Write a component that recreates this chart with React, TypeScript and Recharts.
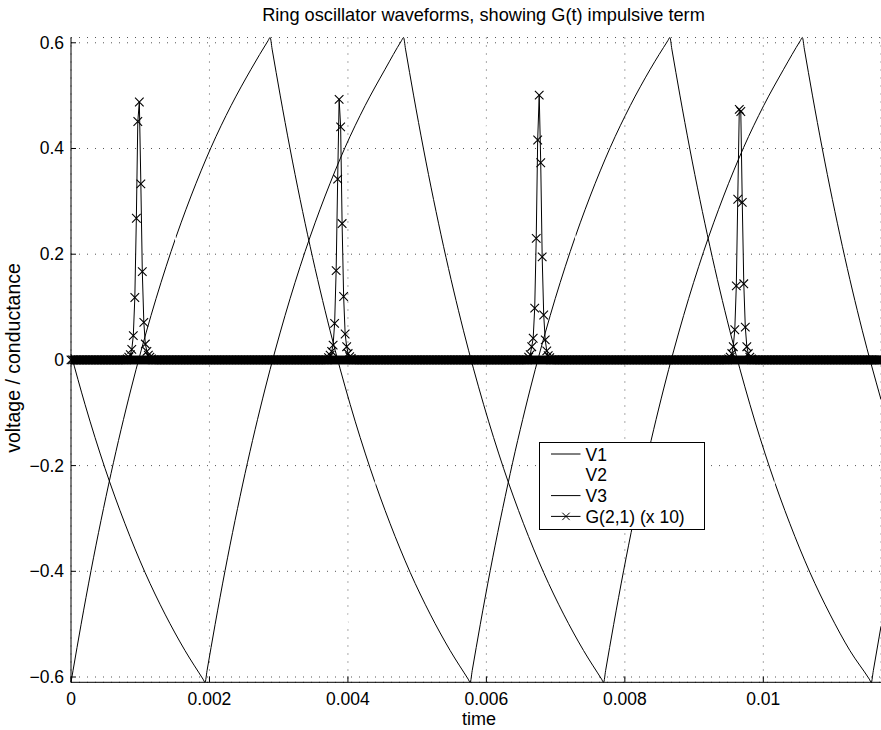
import { CartesianGrid, Line, LineChart, ReferenceLine, XAxis, YAxis } from "recharts"

const FONT = "'Liberation Sans', Arial, Helvetica, sans-serif"

// node voltages: [time (s), volts]
const v1Points = [
  [0, -0.61], [0.000029, -0.588], [0.000145, -0.501], [0.000289, -0.399], [0.000578, -0.215], [0.000867, -0.055],
  [0.001156, 0.084], [0.001445, 0.205], [0.001734, 0.31], [0.002023, 0.402], [0.002312, 0.481], [0.002601, 0.55],
  [0.002847, 0.604], [0.002876, 0.61],
  [0.002905, 0.588], [0.003021, 0.501], [0.003165, 0.399], [0.003454, 0.215], [0.003743, 0.055], [0.004032, -0.084],
  [0.004321, -0.205], [0.00461, -0.31], [0.004899, -0.402], [0.005188, -0.481], [0.005477, -0.55], [0.005737, -0.604],
  [0.005766, -0.61],
  [0.005795, -0.588], [0.005911, -0.501], [0.006055, -0.399], [0.006344, -0.215], [0.006633, -0.055], [0.006922, 0.084],
  [0.007211, 0.205], [0.0075, 0.31], [0.007789, 0.402], [0.008078, 0.481], [0.008367, 0.55], [0.008621, 0.604],
  [0.00865, 0.61],
  [0.008679, 0.588], [0.008795, 0.501], [0.008939, 0.399], [0.009228, 0.215], [0.009517, 0.055], [0.009806, -0.084],
  [0.010095, -0.205], [0.010384, -0.31], [0.010673, -0.402], [0.010962, -0.481], [0.011251, -0.55], [0.011531, -0.604],
  [0.01156, -0.61],
  [0.011589, -0.588], [0.0117, -0.504],
]

const v2Points = [
  [0, 0.376], [0.000087, 0.402], [0.000376, 0.481], [0.000665, 0.55], [0.000925, 0.604], [0.000954, 0.61],
  [0.000983, 0.588], [0.001099, 0.501], [0.001243, 0.399], [0.001532, 0.215], [0.001821, 0.055], [0.00211, -0.084],
  [0.002399, -0.205], [0.002688, -0.31], [0.002977, -0.402], [0.003266, -0.481], [0.003555, -0.55], [0.003815, -0.604],
  [0.003844, -0.61],
  [0.003873, -0.588], [0.003989, -0.501], [0.004133, -0.399], [0.004422, -0.215], [0.004711, -0.055], [0.005, 0.084],
  [0.005289, 0.205], [0.005578, 0.31], [0.005867, 0.402], [0.006156, 0.481], [0.006445, 0.55], [0.006705, 0.604],
  [0.006734, 0.61],
  [0.006763, 0.588], [0.006879, 0.501], [0.007023, 0.399], [0.007312, 0.215], [0.007601, 0.055], [0.00789, -0.084],
  [0.008179, -0.205], [0.008468, -0.31], [0.008757, -0.402], [0.009046, -0.481], [0.009335, -0.55], [0.009588, -0.604],
  [0.009617, -0.61],
  [0.009646, -0.588], [0.009762, -0.501], [0.009906, -0.399], [0.010195, -0.215], [0.010484, -0.055], [0.010773, 0.084],
  [0.011062, 0.205], [0.011351, 0.31], [0.01164, 0.402], [0.0117, 0.419],
]

const v3Points = [
  [0, 0.011], [0.000202, -0.084], [0.000491, -0.205], [0.00078, -0.31], [0.001069, -0.402], [0.001358, -0.481],
  [0.001647, -0.55], [0.001907, -0.604], [0.001936, -0.61],
  [0.001965, -0.588], [0.002081, -0.501], [0.002225, -0.399], [0.002514, -0.215], [0.002803, -0.055], [0.003092, 0.084],
  [0.003381, 0.205], [0.00367, 0.31], [0.003959, 0.402], [0.004248, 0.481], [0.004537, 0.55], [0.004774, 0.604],
  [0.004803, 0.61],
  [0.004832, 0.588], [0.004948, 0.501], [0.005092, 0.399], [0.005381, 0.215], [0.00567, 0.055], [0.005959, -0.084],
  [0.006248, -0.205], [0.006537, -0.31], [0.006826, -0.402], [0.007115, -0.481], [0.007404, -0.55], [0.007664, -0.604],
  [0.007693, -0.61],
  [0.007722, -0.588], [0.007838, -0.501], [0.007982, -0.399], [0.008271, -0.215], [0.00856, -0.055], [0.008849, 0.084],
  [0.009138, 0.205], [0.009427, 0.31], [0.009716, 0.402], [0.010005, 0.481], [0.010294, 0.55], [0.010535, 0.604],
  [0.010564, 0.61],
  [0.010593, 0.588], [0.010709, 0.501], [0.010853, 0.399], [0.011142, 0.215], [0.011431, 0.055], [0.0117, -0.075],
]

// G(2,1) (x 10) pulses at the V1 zero crossings: [time, value]
const gPulse1 = [
  [0.000813, 0.002], [0.000835, 0.005], [0.000857, 0.01], [0.000878, 0.02], [0.0009, 0.046], [0.000922, 0.118],
  [0.000944, 0.268], [0.000965, 0.451], [0.000987, 0.488], [0.001009, 0.333], [0.00103, 0.167], [0.001052, 0.071],
  [0.001074, 0.03], [0.001096, 0.016], [0.001117, 0.009], [0.001139, 0.005], [0.001161, 0.002],
]
const gPulse2 = [
  [0.003721, 0.004], [0.003743, 0.009], [0.003765, 0.016], [0.003786, 0.028], [0.003808, 0.069], [0.00383, 0.169],
  [0.003852, 0.342], [0.003873, 0.493], [0.003895, 0.441], [0.003916, 0.258], [0.003938, 0.12], [0.00396, 0.049],
  [0.003982, 0.025], [0.004003, 0.012], [0.004025, 0.006], [0.004047, 0.003],
]
const gPulse3 = [
  [0.006611, 0.005], [0.006633, 0.01], [0.006655, 0.025], [0.006676, 0.041], [0.006698, 0.098], [0.00672, 0.23],
  [0.006741, 0.416], [0.006763, 0.501], [0.006785, 0.373], [0.006806, 0.195], [0.006828, 0.085], [0.00685, 0.038],
  [0.006872, 0.017], [0.006893, 0.008], [0.006915, 0.004],
]
const gPulse4 = [
  [0.009501, 0.002], [0.009523, 0.005], [0.009545, 0.012], [0.009566, 0.025], [0.009588, 0.057], [0.00961, 0.14],
  [0.009631, 0.304], [0.009653, 0.474], [0.009675, 0.47], [0.009696, 0.298], [0.009718, 0.144], [0.00974, 0.062],
  [0.009762, 0.025], [0.009783, 0.012], [0.009805, 0.005], [0.009827, 0.002],
]

// simulator step, from the spacing of the markers; G sits at 0 between pulses
const gTimeStep = 2.17e-5
const tEnd = 0.0117

const xTicks = [0, 0.002, 0.004, 0.006, 0.008, 0.01]
const yTicks = [-0.6, -0.4, -0.2, 0, 0.2, 0.4, 0.6]

const legendNames = ["V1", "V2", "V3", "G(2,1) (x 10)"]
const legendColors = ["#000", "#fff", "#000", "#000"]

const toRows = (pts: number[][]) => pts.map(([t, v]) => ({ t, v }))

function buildG() {
  const pulses = [gPulse1, gPulse2, gPulse3, gPulse4]
  const rows = pulses.flat().map(([t, v]) => ({ t, v }))
  const n = Math.floor(tEnd / gTimeStep)
  for (let i = 0; i <= n; i++) {
    const t = i * gTimeStep
    const inPulse = pulses.some((p) => t >= p[0][0] && t <= p[p.length - 1][0])
    if (!inPulse) rows.push({ t, v: 0 })
  }
  return rows.sort((a, b) => a.t - b.t)
}

const v1Data = toRows(v1Points)
const v2Data = toRows(v2Points)
const v3Data = toRows(v3Points)
const gData = buildG()

const crossPath = (x: number, y: number, r: number) =>
  `M${x - r},${y - r}L${x + r},${y + r}M${x - r},${y + r}L${x + r},${y - r}`

const Cross = (props: any) => {
  const { cx, cy, index } = props
  if (cx == null || cy == null) return <g key={index} />
  return <path key={index} d={crossPath(cx, cy, 4.3)} stroke="#000" strokeWidth={1.1} fill="none" />
}

const fmt = (v: number) => (v < 0 ? "\u2212" + String(-v) : String(v))

const XTick = (props: any) => {
  const { x, y, payload } = props
  return (
    <g>
      <line x1={x} x2={x} y1={y} y2={y - 6} stroke="#000" />
      <text x={x} y={y + 17} textAnchor="middle" dominantBaseline="central" fontFamily={FONT} fontSize={17.5} fill="#000">
        {fmt(payload.value)}
      </text>
    </g>
  )
}

const YTick = (props: any) => {
  const { x, y, payload } = props
  return (
    <g>
      <line x1={x} x2={x + 5} y1={y} y2={y} stroke="#000" />
      <text x={x - 7} y={y} textAnchor="end" dominantBaseline="central" fontFamily={FONT} fontSize={17.5} fill="#000">
        {fmt(payload.value)}
      </text>
    </g>
  )
}

export default function App() {
  return (
    <div style={{ position: "absolute", left: 0, top: 0, width: 881, height: 730, overflow: "hidden", background: "#fff" }}>
      <LineChart width={881} height={730} margin={{ top: 37.5, right: 0, bottom: 0, left: 0 }}>
        <CartesianGrid stroke="#555" strokeDasharray="1 7" />
        <XAxis
          dataKey="t"
          type="number"
          domain={[0, tEnd]}
          ticks={xTicks}
          height={47.7}
          tickSize={0}
          tickMargin={0}
          tickLine={false}
          tick={XTick}
          axisLine={{ stroke: "#000" }}
        />
        <YAxis
          type="number"
          domain={[-0.61, 0.61]}
          ticks={yTicks}
          width={71}
          tickSize={0}
          tickMargin={0}
          tickLine={false}
          tick={YTick}
          axisLine={{ stroke: "#000" }}
        />
        <Line data={v1Data} dataKey="v" type="monotone" stroke="#000" strokeWidth={1} dot={false} activeDot={false} isAnimationActive={false} />
        <Line data={v2Data} dataKey="v" type="monotone" stroke="#fff" strokeWidth={1.2} dot={false} activeDot={false} isAnimationActive={false} />
        <Line data={v3Data} dataKey="v" type="monotone" stroke="#000" strokeWidth={1} dot={false} activeDot={false} isAnimationActive={false} />
        {/* the densely packed markers on G's zero level print as a solid bar */}
        <ReferenceLine y={0} stroke="#000" strokeWidth={9} />
        <Line data={gData} dataKey="v" type="linear" stroke="#000" strokeWidth={1} dot={Cross} activeDot={false} isAnimationActive={false} />
      </LineChart>
      <svg width={881} height={730} style={{ position: "absolute", left: 0, top: 0, pointerEvents: "none" }} fontFamily={FONT}>
        <text x={483.5} y={20.5} textAnchor="middle" fontSize={18.2} fill="#000">
          Ring oscillator waveforms, showing G(t) impulsive term
        </text>
        <text x={479} y={725} textAnchor="middle" fontSize={18} fill="#000">
          time
        </text>
        <text transform="translate(20,358) rotate(-90)" textAnchor="middle" fontSize={19.5} fill="#000">
          voltage / conductance
        </text>
        <g transform="translate(539.5,442.5)">
          <rect x={0} y={0} width={165} height={87} fill="#fff" stroke="#000" />
          {legendNames.map((name, i) => (
            <g key={name}>
              <line x1={11.5} x2={41} y1={11.5 + i * 20.8} y2={11.5 + i * 20.8} stroke={legendColors[i]} />
              {i === 3 && <path d={crossPath(26.5, 11.5 + i * 20.8, 3.7)} stroke="#000" fill="none" />}
              <text x={46} y={18 + i * 20.8} fontSize={17.5} fill="#000">
                {name}
              </text>
            </g>
          ))}
        </g>
      </svg>
    </div>
  )
}
